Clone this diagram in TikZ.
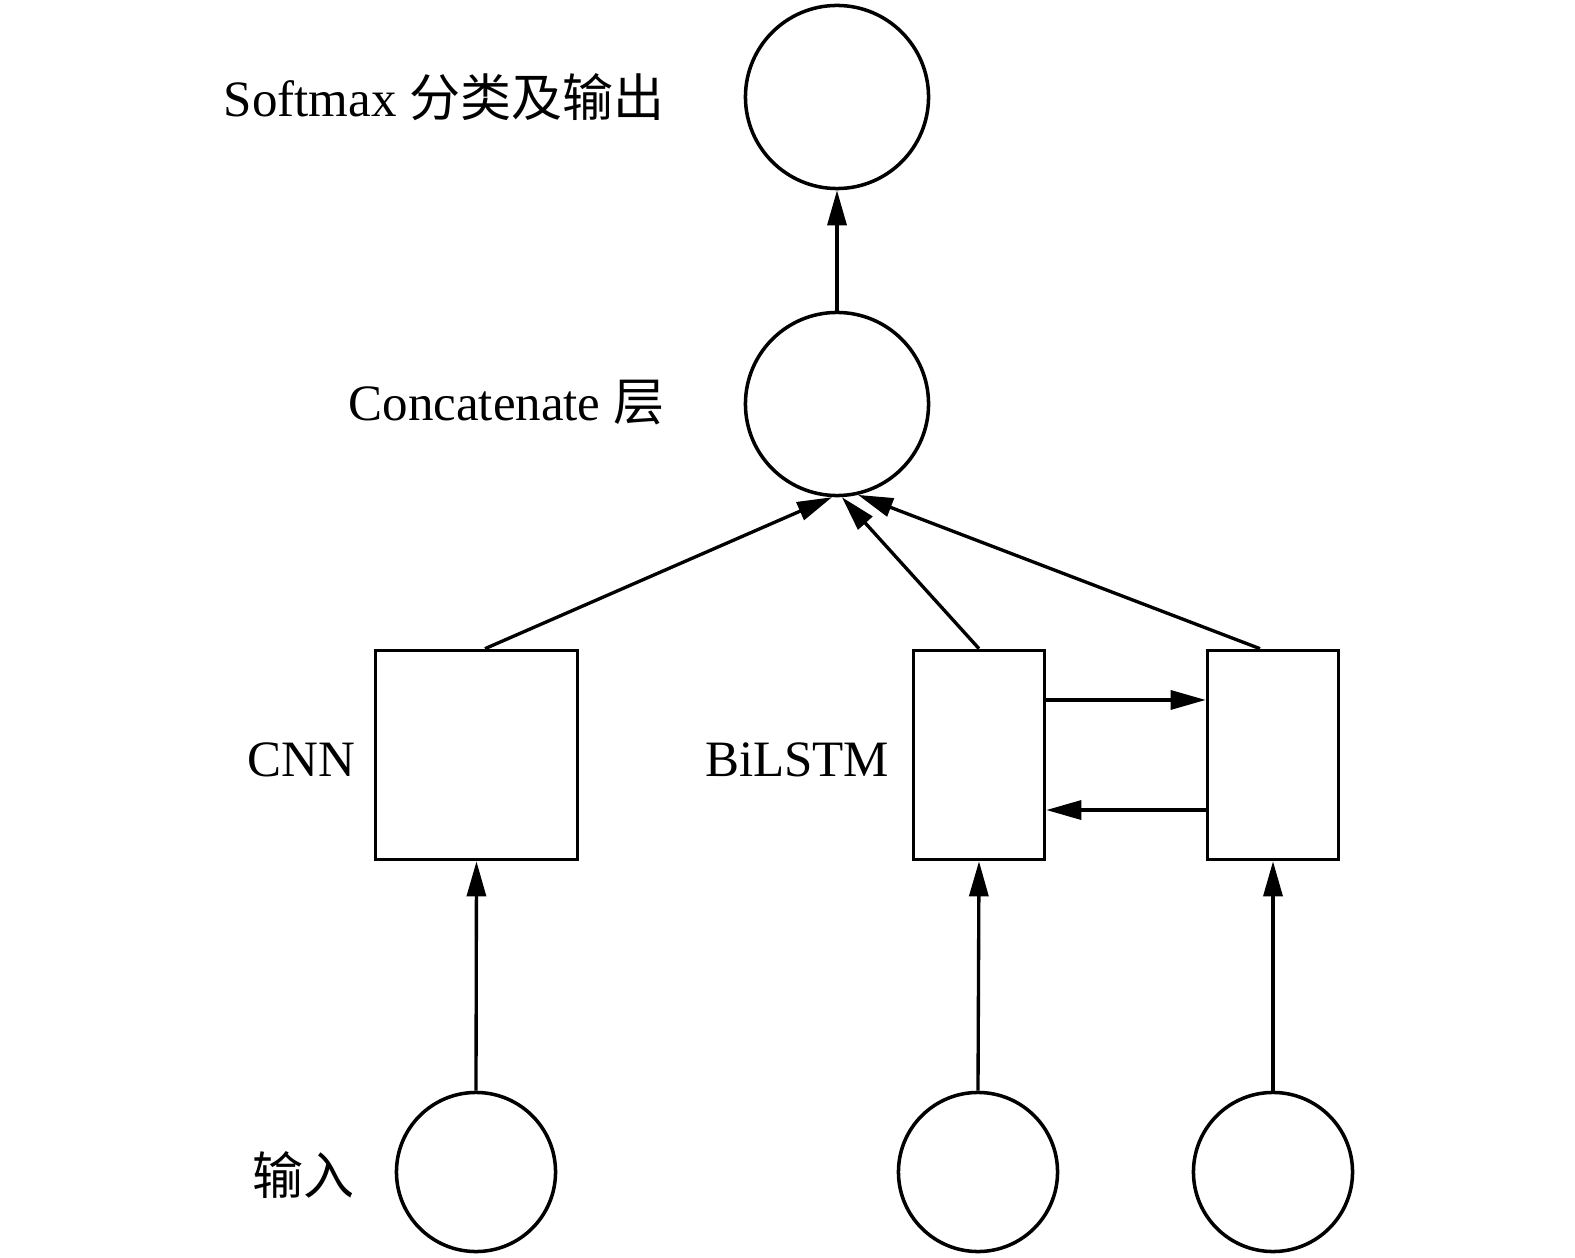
\documentclass[tikz,border=0pt]{standalone}
\usepackage{fontspec}
\setmainfont{Liberation Serif}
\newfontfamily\cjk{Noto Sans CJK SC}
\usepackage{tikz}
\usetikzlibrary{arrows.meta,positioning}

\begin{document}
\begin{tikzpicture}[x=0.01cm,y=-0.01cm,
    font=\fontsize{14.5}{17}\selectfont,
    neuron/.style={circle,draw,line width=1pt,minimum size=1.83cm,inner sep=0pt},
    inneuron/.style={neuron,minimum size=1.59cm},
    block/.style={draw,line width=1pt,minimum height=2.09cm,inner sep=0pt},
    lab/.style={inner sep=0pt,anchor=base east},
    arr/.style={line width=0.95pt,-{Triangle[length=0.35cm,width=0.19cm]}}]
  \useasboundingbox (0,0) rectangle (1575,1258);
  % layers
  \node[neuron] (soft) at (837,97) {};
  \node[neuron] (concat) at (837,404) {};
  \node[block,minimum width=2.02cm] (cnn) at (476.5,755) {};
  \node[block,minimum width=1.31cm] (fwd) at (979,755) {};
  \node[block,minimum width=1.31cm] (bwd) at (1273,755) {};
  \foreach \name/\x in {in1/476,in2/978,in3/1273}
    \node[inneuron] (\name) at (\x,1172) {};
  % labels
  \node[lab] (softlab) at (665,117) {Softmax {\cjk 分类及输出}};
  \node[lab] (concatlab) at (665,421) {Concatenate {\cjk 层}};
  \node[lab] (cnnlab) at (356,777) {CNN};
  \node[lab] (lstmlab) at (890,777) {BiLSTM};
  \node[lab] (inlab) at (355,1194) {\cjk 输入};
  % connectors
  \draw[arr] (concat.north) -- (soft.south);
  \draw[arr] ([xshift=0.085cm]cnn.north) -- (concat.267);
  \draw[arr] (fwd.north) -- (concat.273);
  \draw[arr] ([xshift=-0.13cm]bwd.north) -- (concat.283);
  \draw[arr] ([yshift=0.55cm]fwd.east) -- ([yshift=0.55cm]bwd.west);
  \draw[arr] ([yshift=-0.55cm]bwd.west) -- ([yshift=-0.55cm]fwd.east);
  \foreach \src/\dst in {in1/cnn,in2/fwd,in3/bwd}
    \draw[arr] (\src.north) -- (\dst.south);
\end{tikzpicture}
\end{document}
